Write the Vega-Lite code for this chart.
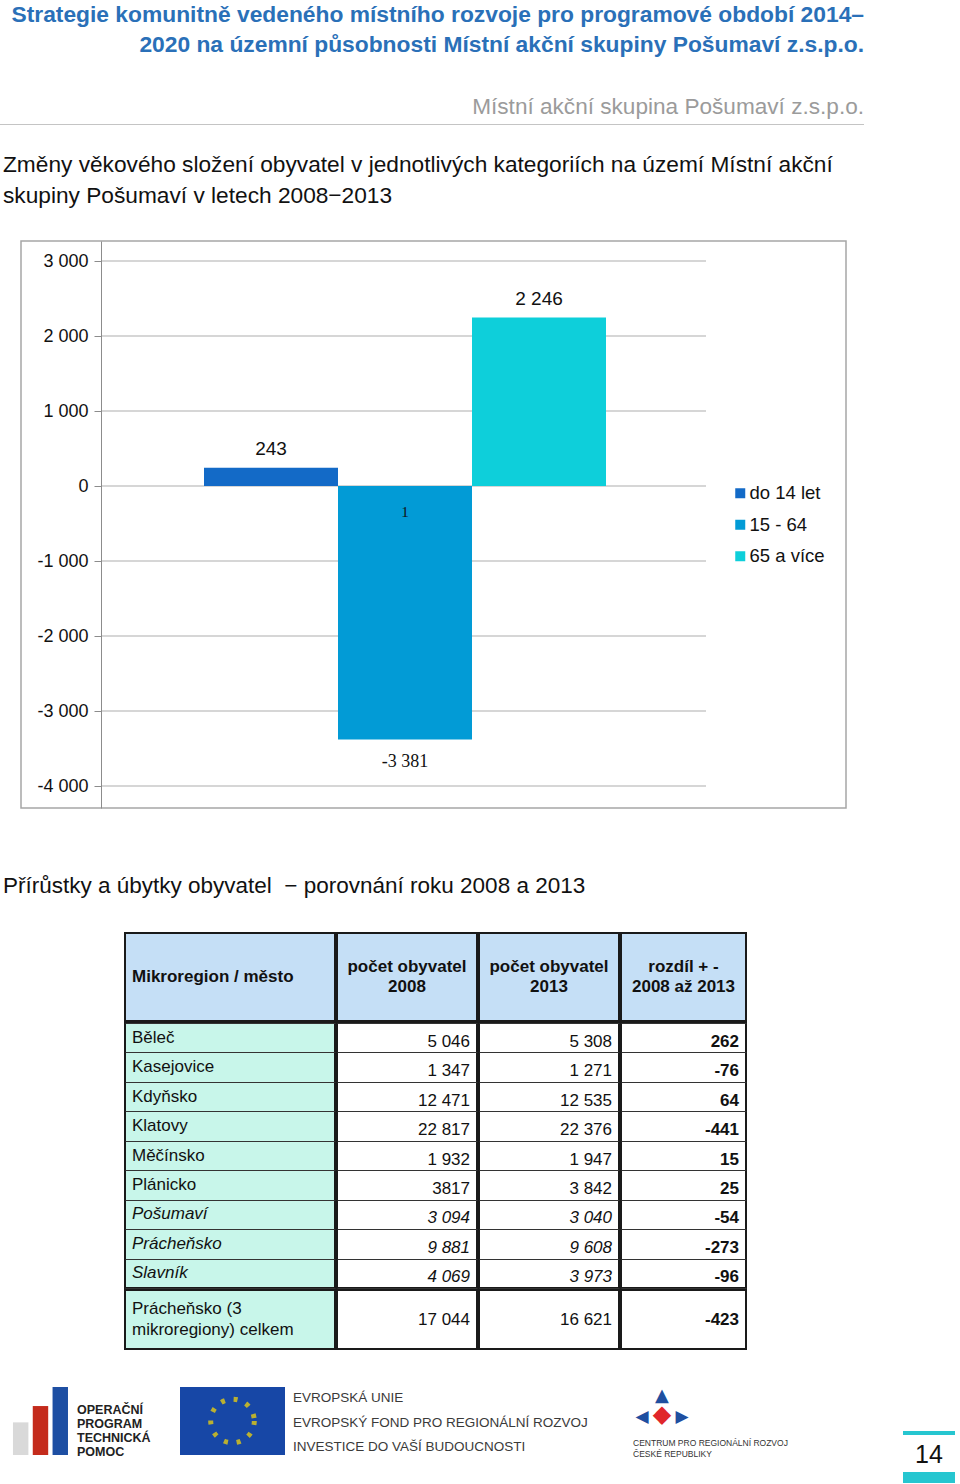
{
  "$schema": "https://vega.github.io/schema/vega-lite/v6.json",
  "background": "white",
  "padding": {"left": 0, "top": 4, "right": 0, "bottom": 0},
  "config": {
    "font": "Liberation Sans",
    "view": {"stroke": null},
    "title": {"font": "Liberation Sans", "subtitleFont": "Liberation Sans"},
    "text": {"font": "Liberation Sans"}
  },
  "datasets": {
    "body": [
      {"name": "Běleč", "a": "5 046", "b": "5 308", "d": "262", "it": false},
      {"name": "Kasejovice", "a": "1 347", "b": "1 271", "d": "-76", "it": false},
      {"name": "Kdyňsko", "a": "12 471", "b": "12 535", "d": "64", "it": false},
      {"name": "Klatovy", "a": "22 817", "b": "22 376", "d": "-441", "it": false},
      {"name": "Měčínsko", "a": "1 932", "b": "1 947", "d": "15", "it": false},
      {"name": "Plánicko", "a": "3817", "b": "3 842", "d": "25", "it": false},
      {"name": "Pošumaví", "a": "3 094", "b": "3 040", "d": "-54", "it": true},
      {"name": "Prácheňsko", "a": "9 881", "b": "9 608", "d": "-273", "it": true},
      {"name": "Slavník", "a": "4 069", "b": "3 973", "d": "-96", "it": true}
    ],
    "total": [
      {"name": "Prácheňsko (3\nmikroregiony) celkem", "a": "17 044", "b": "16 621", "d": "-423"}
    ],
    "bars": [
      {"series": "do 14 let", "v": 243},
      {"series": "15 - 64", "v": -3381},
      {"series": "65 a více", "v": 2246}
    ],
    "labels": [
      {"series": "do 14 let", "v": 243, "t": "243", "kind": "above"},
      {"series": "65 a více", "v": 2246, "t": "2 246", "kind": "above"},
      {"series": "15 - 64", "v": -3381, "t": "-3 381", "kind": "below"},
      {"series": "15 - 64", "v": 0, "t": "1", "kind": "inside"}
    ],
    "ticks": [
      {"v": 3000}, {"v": 2000}, {"v": 1000}, {"v": 0},
      {"v": -1000}, {"v": -2000}, {"v": -3000}, {"v": -4000}
    ],
    "blank": [{"t": ""}]
  },
  "resolve": {"scale": {"color": "independent"}, "legend": {"color": "independent"}},
  "spacing": 65,
  "vconcat": [
    {
      "spacing": 24,
      "resolve": {"scale": {"color": "independent"}, "legend": {"color": "independent"}},
      "vconcat": [
        {
          "width": 864,
          "height": 1,
          "view": {"fill": "#c4c4c4", "stroke": null},
          "title": {
            "text": [
              "Strategie komunitně vedeného místního rozvoje pro programové období 2014–",
              "2020  na územní působnosti Místní akční skupiny Pošumaví z.s.p.o."
            ],
            "anchor": "end",
            "fontSize": 22.8,
            "fontWeight": "bold",
            "color": "#2a70b8",
            "lineHeight": 30,
            "subtitle": "Místní akční skupina Pošumaví z.s.p.o.",
            "subtitleColor": "#9b9b9b",
            "subtitleFontSize": 22.6,
            "subtitlePadding": 39,
            "offset": 0
          },
          "data": {"name": "blank"},
          "mark": {"type": "text"},
          "encoding": {"text": {"field": "t"}}
        },
        {
          "spacing": 0,
          "resolve": {"scale": {"color": "independent"}, "legend": {"color": "independent"}},
          "title": {
            "text": [
              "Změny věkového složení obyvatel v jednotlivých kategoriích na území Místní akční",
              "skupiny Pošumaví v letech 2008−2013"
            ],
            "anchor": "start",
            "dx": 3,
            "fontSize": 22.7,
            "fontWeight": "normal",
            "color": "#111111",
            "lineHeight": 31,
            "offset": 32
          },
          "hconcat": [
            {"width": 20, "height": 10, "data": {"name": "blank"}, "mark": {"type": "text"}, "encoding": {"text": {"field": "t"}}},
            {
              "width": 825,
              "height": 567,
              "view": {"stroke": "#a6a6a6", "strokeWidth": 1.5},
              "layer": [
                {
                  "data": {"name": "ticks"},
                  "mark": {"type": "tick", "orient": "horizontal", "size": 605, "thickness": 1, "xOffset": -30, "color": "#8c8c8c"},
                  "encoding": {
                    "y": {
                      "field": "v", "type": "quantitative",
                      "scale": {"domain": [-4293.33, 3266.67], "nice": false, "zero": false},
                      "axis": {
                        "offset": -80,
                        "values": [-4000, -3000, -2000, -1000, 0, 1000, 2000, 3000],
                        "labelExpr": "replace(replace(format(datum.value, ','), ',', ' '), '−', '-')",
                        "title": null,
                        "grid": false,
                        "domainColor": "#8c8c8c",
                        "tickColor": "#8c8c8c",
                        "tickSize": 7,
                        "labelFontSize": 18,
                        "labelColor": "#111111",
                        "labelPadding": 6
                      }
                    }
                  }
                },
                {
                  "data": {"name": "bars"},
                  "mark": {"type": "bar"},
                  "encoding": {
                    "x": {
                      "field": "series", "type": "nominal", "axis": null,
                      "scale": {"domain": ["do 14 let", "15 - 64", "65 a více"], "range": [183, 585], "paddingInner": 0, "paddingOuter": 0}
                    },
                    "y": {"field": "v", "type": "quantitative"},
                    "color": {
                      "field": "series", "type": "nominal",
                      "scale": {"domain": ["do 14 let", "15 - 64", "65 a více"], "range": ["#136ac7", "#029bd6", "#0ecfda"]},
                      "legend": {
                        "orient": "none", "legendX": 710, "legendY": 243, "title": null,
                        "symbolType": "square", "symbolSize": 100, "symbolStrokeWidth": 0,
                        "labelFontSize": 18.5, "labelColor": "#111111", "rowPadding": 12.5,
                        "labelOffset": 0, "padding": 0
                      }
                    }
                  }
                },
                {
                  "data": {"name": "labels"},
                  "transform": [{"filter": "datum.kind == 'above'"}],
                  "mark": {"type": "text", "baseline": "middle", "dy": -19, "fontSize": 19, "color": "#111111"},
                  "encoding": {
                    "x": {"field": "series", "type": "nominal"},
                    "y": {"field": "v", "type": "quantitative"},
                    "text": {"field": "t"}
                  }
                },
                {
                  "data": {"name": "labels"},
                  "transform": [{"filter": "datum.kind == 'below'"}],
                  "mark": {"type": "text", "baseline": "middle", "dy": 22, "fontSize": 18, "font": "Liberation Serif", "color": "#111111"},
                  "encoding": {
                    "x": {"field": "series", "type": "nominal"},
                    "y": {"field": "v", "type": "quantitative"},
                    "text": {"field": "t"}
                  }
                },
                {
                  "data": {"name": "labels"},
                  "transform": [{"filter": "datum.kind == 'inside'"}],
                  "mark": {"type": "text", "baseline": "middle", "dy": 26, "fontSize": 15, "font": "Liberation Serif", "color": "#111111"},
                  "encoding": {
                    "x": {"field": "series", "type": "nominal"},
                    "y": {"field": "v", "type": "quantitative"},
                    "text": {"field": "t"}
                  }
                }
              ]
            }
          ]
        }
      ]
    },
    {
      "spacing": 37,
      "vconcat": [
        {
          "spacing": 0,
          "title": {
            "text": "Přírůstky a úbytky obyvatel  \u00a0− porovnání roku 2008 a 2013",
            "anchor": "start",
            "dx": 3,
            "fontSize": 22.5,
            "fontWeight": "normal",
            "color": "#111111",
            "offset": 35
          },
          "hconcat": [
            {"width": 124, "height": 10, "data": {"name": "blank"}, "mark": {"type": "text"}, "encoding": {"text": {"field": "t"}}},
            {
              "spacing": 0,
              "vconcat": [
                {
                  "spacing": 0,
                  "hconcat": [
                    {
                      "width": 210, "height": 88,
                      "view": {"fill": "#c5dff6", "stroke": "#1a1a1a", "strokeWidth": 2},
                      "data": {"values": [{"t": "Mikroregion / město"}]},
                      "mark": {"type": "text", "align": "left", "dx": -98, "fontSize": 17, "fontWeight": "bold", "color": "#111111"},
                      "encoding": {"text": {"field": "t"}}
                    },
                    {
                      "width": 140, "height": 88,
                      "view": {"fill": "#c5dff6", "stroke": "#1a1a1a", "strokeWidth": 2},
                      "data": {"values": [{"t": "počet obyvatel\n2008"}]},
                      "mark": {"type": "text", "align": "center", "dy": -10, "lineBreak": "\n", "lineHeight": 20, "fontSize": 17, "fontWeight": "bold", "color": "#111111"},
                      "encoding": {"text": {"field": "t"}}
                    },
                    {
                      "width": 140, "height": 88,
                      "view": {"fill": "#c5dff6", "stroke": "#1a1a1a", "strokeWidth": 2},
                      "data": {"values": [{"t": "počet obyvatel\n2013"}]},
                      "mark": {"type": "text", "align": "center", "dy": -10, "lineBreak": "\n", "lineHeight": 20, "fontSize": 17, "fontWeight": "bold", "color": "#111111"},
                      "encoding": {"text": {"field": "t"}}
                    },
                    {
                      "width": 125, "height": 88,
                      "view": {"fill": "#c5dff6", "stroke": "#1a1a1a", "strokeWidth": 2},
                      "data": {"values": [{"t": "rozdíl + -\n2008 až 2013"}]},
                      "mark": {"type": "text", "align": "center", "dy": -10, "lineBreak": "\n", "lineHeight": 20, "fontSize": 17, "fontWeight": "bold", "color": "#111111"},
                      "encoding": {"text": {"field": "t"}}
                    }
                  ]
                },
                {
                  "spacing": 0,
                  "hconcat": [
                    {
                      "width": 210, "height": 265, "data": {"name": "body"},
                      "view": {"fill": "#c8f6ea", "stroke": "#1a1a1a", "strokeWidth": 2},
                      "encoding": {
                        "y": {"field": "name", "type": "nominal", "sort": null, "scale": {"paddingInner": 0, "paddingOuter": 0},
                          "axis": {"labels": false, "ticks": false, "domain": false, "grid": true, "gridColor": "#333333", "gridWidth": 1, "tickBand": "extent", "title": null}}
                      },
                      "layer": [
                        {
                          "transform": [{"filter": "!datum.it"}],
                          "mark": {"type": "text", "align": "left", "dx": -98, "fontSize": 17, "color": "#111111"},
                          "encoding": {"text": {"field": "name"}}
                        },
                        {
                          "transform": [{"filter": "datum.it"}],
                          "mark": {"type": "text", "align": "left", "dx": -98, "fontSize": 17, "fontStyle": "italic", "color": "#111111"},
                          "encoding": {"text": {"field": "name"}}
                        }
                      ]
                    },
                    {
                      "width": 140, "height": 265, "data": {"name": "body"},
                      "view": {"stroke": "#1a1a1a", "strokeWidth": 2},
                      "encoding": {
                        "y": {"field": "name", "type": "nominal", "sort": null, "scale": {"paddingInner": 0, "paddingOuter": 0},
                          "axis": {"labels": false, "ticks": false, "domain": false, "grid": true, "gridColor": "#333333", "gridWidth": 1, "tickBand": "extent", "title": null}}
                      },
                      "layer": [
                        {
                          "transform": [{"filter": "!datum.it"}],
                          "mark": {"type": "text", "align": "right", "dx": 63, "dy": 4, "fontSize": 17, "color": "#111111"},
                          "encoding": {"text": {"field": "a"}}
                        },
                        {
                          "transform": [{"filter": "datum.it"}],
                          "mark": {"type": "text", "align": "right", "dx": 63, "dy": 4, "fontSize": 17, "fontStyle": "italic", "color": "#111111"},
                          "encoding": {"text": {"field": "a"}}
                        }
                      ]
                    },
                    {
                      "width": 140, "height": 265, "data": {"name": "body"},
                      "view": {"stroke": "#1a1a1a", "strokeWidth": 2},
                      "encoding": {
                        "y": {"field": "name", "type": "nominal", "sort": null, "scale": {"paddingInner": 0, "paddingOuter": 0},
                          "axis": {"labels": false, "ticks": false, "domain": false, "grid": true, "gridColor": "#333333", "gridWidth": 1, "tickBand": "extent", "title": null}}
                      },
                      "layer": [
                        {
                          "transform": [{"filter": "!datum.it"}],
                          "mark": {"type": "text", "align": "right", "dx": 63, "dy": 4, "fontSize": 17, "color": "#111111"},
                          "encoding": {"text": {"field": "b"}}
                        },
                        {
                          "transform": [{"filter": "datum.it"}],
                          "mark": {"type": "text", "align": "right", "dx": 63, "dy": 4, "fontSize": 17, "fontStyle": "italic", "color": "#111111"},
                          "encoding": {"text": {"field": "b"}}
                        }
                      ]
                    },
                    {
                      "width": 125, "height": 265, "data": {"name": "body"},
                      "view": {"stroke": "#1a1a1a", "strokeWidth": 2},
                      "mark": {"type": "text", "align": "right", "dx": 55.5, "dy": 4, "fontSize": 17, "fontWeight": "bold", "color": "#111111"},
                      "encoding": {
                        "y": {"field": "name", "type": "nominal", "sort": null, "scale": {"paddingInner": 0, "paddingOuter": 0},
                          "axis": {"labels": false, "ticks": false, "domain": false, "grid": true, "gridColor": "#333333", "gridWidth": 1, "tickBand": "extent", "title": null}},
                        "text": {"field": "d"}
                      }
                    }
                  ]
                },
                {
                  "spacing": 0,
                  "hconcat": [
                    {
                      "width": 210, "height": 59, "data": {"name": "total"},
                      "view": {"fill": "#c8f6ea", "stroke": "#1a1a1a", "strokeWidth": 2},
                      "mark": {"type": "text", "align": "left", "dx": -98, "dy": -10.5, "lineBreak": "\n", "lineHeight": 21, "fontSize": 17, "color": "#111111"},
                      "encoding": {"text": {"field": "name"}}
                    },
                    {
                      "width": 140, "height": 59, "data": {"name": "total"},
                      "view": {"stroke": "#1a1a1a", "strokeWidth": 2},
                      "mark": {"type": "text", "align": "right", "dx": 63, "fontSize": 17, "color": "#111111"},
                      "encoding": {"text": {"field": "a"}}
                    },
                    {
                      "width": 140, "height": 59, "data": {"name": "total"},
                      "view": {"stroke": "#1a1a1a", "strokeWidth": 2},
                      "mark": {"type": "text", "align": "right", "dx": 63, "fontSize": 17, "color": "#111111"},
                      "encoding": {"text": {"field": "b"}}
                    },
                    {
                      "width": 125, "height": 59, "data": {"name": "total"},
                      "view": {"stroke": "#1a1a1a", "strokeWidth": 2},
                      "mark": {"type": "text", "align": "right", "dx": 55.5, "fontSize": 17, "fontWeight": "bold", "color": "#111111"},
                      "encoding": {"text": {"field": "d"}}
                    }
                  ]
                }
              ]
            }
          ]
        },
        {
          "spacing": 0,
          "hconcat": [
            {
              "width": 77, "height": 68,
              "data": {"values": [{"b": "a", "h": 0.48}, {"b": "b", "h": 0.72}, {"b": "c", "h": 1}]},
              "encoding": {
                "x": {"field": "b", "type": "nominal", "axis": null, "scale": {"paddingInner": 0.22, "paddingOuter": 0.555, "align": 0.59}},
                "y": {"field": "h", "type": "quantitative", "axis": null, "scale": {"domain": [0, 1]}}
              },
              "layer": [
                {"transform": [{"filter": "datum.b == 'a'"}], "mark": {"type": "bar", "color": "#d9d9d9"}},
                {"transform": [{"filter": "datum.b == 'b'"}], "mark": {"type": "bar", "color": "#c42b1c"}},
                {"transform": [{"filter": "datum.b == 'c'"}], "mark": {"type": "bar", "color": "#1e4fa3"}}
              ]
            },
            {
              "width": 103, "height": 68,
              "data": {"values": [{"t": "OPERAČNÍ\nPROGRAM\nTECHNICKÁ\nPOMOC"}]},
              "mark": {"type": "text", "align": "left", "dx": -51.5, "dy": -11, "lineBreak": "\n", "lineHeight": 14, "fontSize": 12.5, "fontWeight": "bold", "color": "#222222"},
              "encoding": {"text": {"field": "t"}}
            },
            {
              "width": 105, "height": 68,
              "view": {"fill": "#1747a6", "stroke": null},
              "data": {"name": "blank"},
              "mark": {"type": "point", "shape": "circle", "size": 1900, "stroke": "#ffdd00", "strokeWidth": 5, "strokeDash": [4, 8.9], "filled": false},
              "encoding": {}
            },
            {
              "width": 340, "height": 68,
              "data": {"values": [{"t": "EVROPSKÁ UNIE\nEVROPSKÝ FOND PRO REGIONÁLNÍ ROZVOJ\nINVESTICE DO VAŠÍ BUDOUCNOSTI"}]},
              "mark": {"type": "text", "align": "left", "dx": -162, "dy": -23, "lineBreak": "\n", "lineHeight": 24.5, "fontSize": 13.5, "font": "Liberation Sans Narrow, Liberation Sans", "color": "#3a3a3a"},
              "encoding": {"text": {"field": "t"}}
            },
            {
              "width": 278, "height": 68,
              "data": {"values": [{"t": "CENTRUM PRO REGIONÁLNÍ ROZVOJ\nČESKÉ REPUBLIKY"}]},
              "layer": [
                {
                  "mark": {"type": "text", "align": "left", "dx": -131, "dy": 22, "lineBreak": "\n", "lineHeight": 11, "fontSize": 8.5, "color": "#333333"},
                  "encoding": {"text": {"field": "t"}}
                },
                {"mark": {"type": "text", "text": "◀\u00a0\u00a0\u00a0\u00a0\u00a0▶", "align": "center", "dx": -102, "dy": -4, "fontSize": 17, "font": "DejaVu Sans", "color": "#1f4fa0"}, "encoding": {}},
                {"mark": {"type": "text", "text": "▲", "align": "center", "dx": -102, "dy": -25, "fontSize": 18, "font": "DejaVu Sans", "color": "#1f4fa0"}, "encoding": {}},
                {"mark": {"type": "text", "text": "◆", "align": "center", "dx": -102, "dy": -6, "fontSize": 24, "font": "DejaVu Sans", "color": "#e0262b"}, "encoding": {}}
              ]
            },
            {
              "spacing": 0,
              "vconcat": [
                {"width": 52, "height": 40, "data": {"name": "blank"}, "mark": {"type": "text"}, "encoding": {"text": {"field": "t"}}},
                {"width": 52, "height": 4, "view": {"fill": "#26c6d0", "stroke": null}, "data": {"name": "blank"}, "mark": {"type": "text"}, "encoding": {"text": {"field": "t"}}},
                {
                  "width": 52, "height": 33,
                  "data": {"values": [{"t": "14"}]},
                  "mark": {"type": "text", "fontSize": 25, "color": "#111111"},
                  "encoding": {"text": {"field": "t"}}
                },
                {"width": 52, "height": 11, "view": {"fill": "#26c6d0", "stroke": null}, "data": {"name": "blank"}, "mark": {"type": "text"}, "encoding": {"text": {"field": "t"}}}
              ]
            }
          ]
        }
      ]
    }
  ]
}
